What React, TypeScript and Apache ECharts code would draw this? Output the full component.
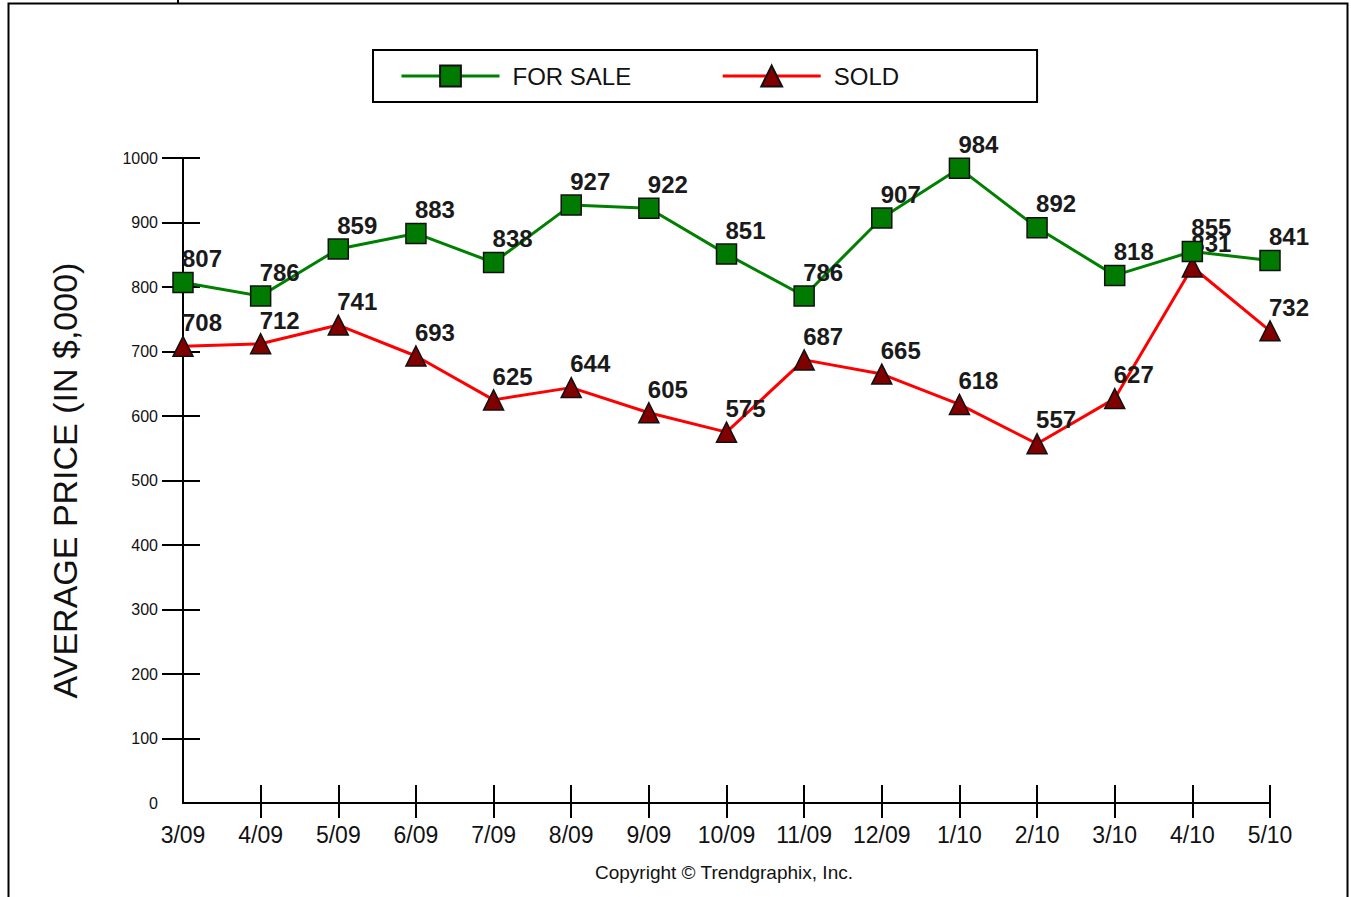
import React, { useEffect, useRef } from "react";
import * as echarts from "echarts";

const months = ["3/09", "4/09", "5/09", "6/09", "7/09", "8/09", "9/09", "10/09", "11/09", "12/09", "1/10", "2/10", "3/10", "4/10", "5/10"];
const forSale = [807, 786, 859, 883, 838, 927, 922, 851, 786, 907, 984, 892, 818, 855, 841];
const sold = [708, 712, 741, 693, 625, 644, 605, 575, 687, 665, 618, 557, 627, 831, 732];
const yTicks = [100, 200, 300, 400, 500, 600, 700, 800, 900, 1000];
const xTickIdx = [1, 2, 3, 4, 5, 6, 7, 8, 9, 10, 11, 12, 13, 14];

const FONT = "'Liberation Sans', Arial, sans-serif";

export default function App() {
  const ref = useRef<HTMLDivElement>(null);
  useEffect(() => {
    if (!ref.current) return;
    const chart = echarts.init(ref.current, null, { renderer: "svg" });
    const labelStyle = {
      show: true,
      position: "top",
      offset: [19, 4],
      fontFamily: FONT,
      fontSize: 24,
      fontWeight: "bold",
      color: "#1a1a1a",
    };
    chart.setOption({
      animation: false,
      backgroundColor: "#fff",
      textStyle: { fontFamily: FONT },
      legend: {
        left: 373,
        top: 50,
        orient: "horizontal",
        itemWidth: 98,
        itemHeight: 26,
        itemGap: 90,
        padding: [14, 138, 14, 27],
        borderColor: "#000",
        borderWidth: 2,
        lineStyle: { width: 3 },
        textStyle: { fontFamily: FONT, fontSize: 24, color: "#111", padding: [0, 0, 0, 8] },
        data: ["FOR SALE", "SOLD"],
      },
      grid: { left: 183, right: 81, top: 158, bottom: 94 },
      xAxis: [
        {
          type: "category",
          data: months,
          boundaryGap: false,
          position: "bottom",
          axisLine: { lineStyle: { color: "#000", width: 2 } },
          axisTick: { show: true, inside: false, length: 15, lineStyle: { color: "#000", width: 2 }, customValues: xTickIdx },
          axisLabel: { fontFamily: FONT, fontSize: 23, color: "#111", margin: 20 },
          splitLine: { show: false },
        },
        {
          type: "category",
          data: months,
          boundaryGap: false,
          position: "bottom",
          offset: 0,
          axisLine: { show: false },
          axisTick: { show: true, inside: true, length: 18, lineStyle: { color: "#000", width: 2 }, customValues: xTickIdx },
          axisLabel: { show: false },
          splitLine: { show: false },
        },
      ],
      yAxis: [
        {
          type: "value",
          min: 0,
          max: 1000,
          interval: 100,
          position: "left",
          name: "AVERAGE PRICE (IN $,000)",
          nameLocation: "middle",
          nameRotate: 90,
          nameGap: 101,
          nameTextStyle: { fontFamily: FONT, fontSize: 34, color: "#111" },
          axisLine: { show: true, lineStyle: { color: "#000", width: 2 } },
          axisTick: { show: true, inside: false, length: 21, lineStyle: { color: "#000", width: 2 }, customValues: yTicks },
          axisLabel: { fontFamily: FONT, fontSize: 16, color: "#111", margin: 25, formatter: (v: number) => String(v) },
          splitLine: { show: false },
        },
        {
          type: "value",
          min: 0,
          max: 1000,
          interval: 100,
          position: "left",
          offset: 0,
          axisLine: { show: false },
          axisTick: { show: true, inside: true, length: 17, lineStyle: { color: "#000", width: 2 }, customValues: yTicks },
          axisLabel: { show: false },
          splitLine: { show: false },
        },
      ],
      series: [
        {
          name: "FOR SALE",
          type: "line",
          data: forSale,
          xAxisIndex: 0,
          yAxisIndex: 0,
          symbol: "rect",
          symbolSize: 20,
          lineStyle: { color: "#008000", width: 3 },
          itemStyle: { color: "#007a00", borderColor: "#111", borderWidth: 1.5 },
          label: labelStyle,
          z: 3,
        },
        {
          name: "SOLD",
          type: "line",
          data: sold,
          xAxisIndex: 0,
          yAxisIndex: 0,
          symbol: "triangle",
          symbolSize: 20,
          lineStyle: { color: "#ff0000", width: 3 },
          itemStyle: { color: "#800000", borderColor: "#111", borderWidth: 1.5 },
          label: labelStyle,
          z: 2,
        },
      ],
      graphic: [
        {
          type: "rect",
          shape: { x: 8.5, y: 3.5, width: 1339, height: 1000 },
          style: { fill: "none", stroke: "#000", lineWidth: 2 },
          silent: true,
        },
        {
          type: "line",
          shape: { x1: 178, y1: 0, x2: 178, y2: 4 },
          style: { stroke: "#000", lineWidth: 2 },
          silent: true,
        },
        {
          type: "text",
          x: 724,
          y: 872,
          style: {
            text: "Copyright \u00A9 Trendgraphix, Inc.",
            fontFamily: FONT,
            fontSize: 19,
            fill: "#111",
            align: "center",
            verticalAlign: "middle",
          },
          silent: true,
        },
      ],
    });
    return () => chart.dispose();
  }, []);
  return <div ref={ref} style={{ position: "fixed", left: 0, top: 0, width: 1351, height: 897 }} />;
}
